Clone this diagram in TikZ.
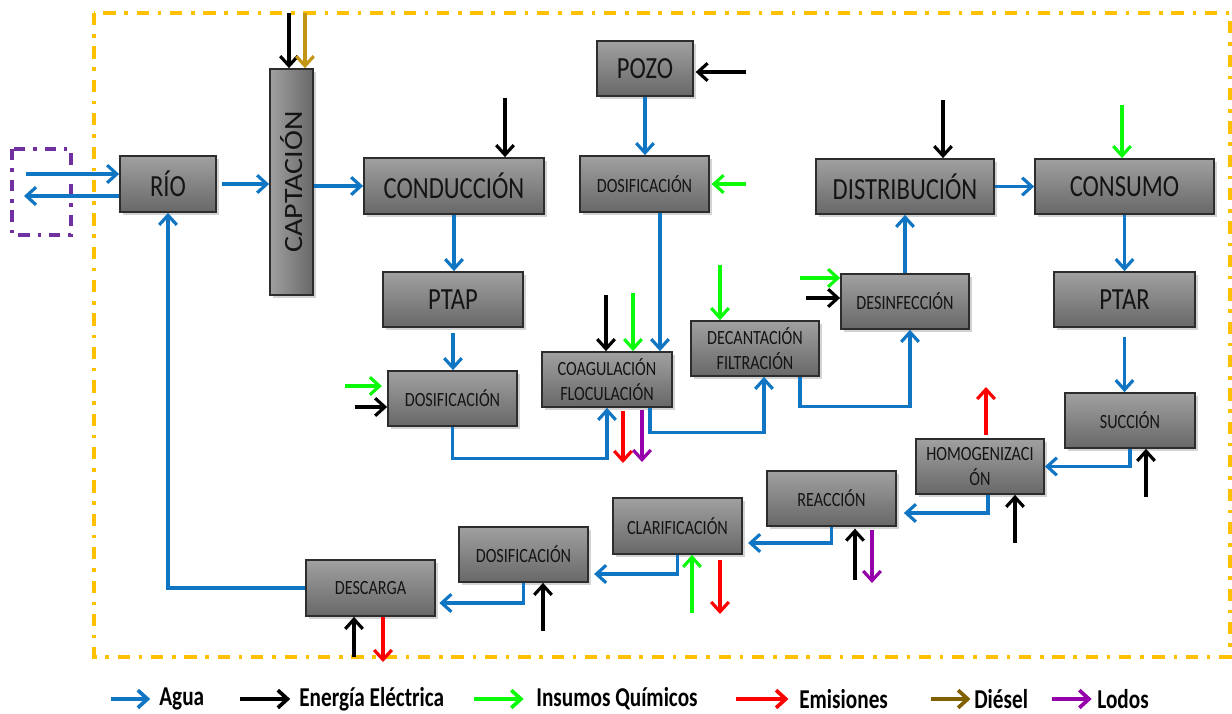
\documentclass[tikz,border=0pt]{standalone}
\usepackage{fontspec}
\setmainfont{Carlito}
\newfontfamily\boxfont[FakeStretch=0.8]{Carlito}
\newfontfamily\rotfont[FakeStretch=1.14]{Carlito}
\newfontfamily\legfont[FakeStretch=0.78]{Carlito}
\usetikzlibrary{arrows.meta,shadows,calc}

\definecolor{boxtop}{RGB}{160,160,160}
\definecolor{boxbot}{RGB}{104,104,104}
\definecolor{boxline}{RGB}{45,45,45}
\definecolor{boxtext}{RGB}{20,20,20}
\definecolor{cAgua}{RGB}{16,117,195}
\definecolor{cElec}{RGB}{0,0,0}
\definecolor{cQuim}{RGB}{10,250,10}
\definecolor{cEmis}{RGB}{255,0,0}
\definecolor{cDiesel}{RGB}{196,148,20}
\definecolor{cDieselLeg}{RGB}{128,96,0}
\definecolor{cLodos}{RGB}{150,0,170}
\definecolor{cLimite}{RGB}{255,192,0}
\definecolor{cExt}{RGB}{112,48,160}

\tikzset{
  proc/.style={draw=boxline, line width=1pt, top color=boxtop, bottom color=boxbot,
    drop shadow={shadow xshift=1.6pt, shadow yshift=-1.6pt, opacity=0.35},
    inner sep=1pt, align=center, text=boxtext},
  sz/.style 2 args={minimum width=#1cm, minimum height=#2cm},
  big/.style={proc, font=\boxfont\fontsize{17.5}{20}\selectfont},
  small/.style={proc, font=\boxfont\fontsize{11.5}{14.2}\selectfont},
  flow/.style={line width=1.8pt, -{Straight Barb[length=5.5pt,width=10pt]}},
  agua/.style={flow, draw=cAgua},
  elec/.style={flow, draw=cElec},
  quim/.style={flow, draw=cQuim},
  emis/.style={flow, draw=cEmis},
  diesel/.style={flow, draw=cDiesel},
  lodos/.style={flow, draw=cLodos},
  leg/.style={inner sep=0pt, anchor=west, font=\legfont\bfseries\fontsize{15.5}{18}\selectfont},
  legarrow/.style={line width=2.1pt}
}

\begin{document}
\begin{tikzpicture}[x=0.02cm, y=-0.02cm]
\useasboundingbox (0,0) rectangle (1232,714);

% system boundary and external body of water
\draw[cLimite, line width=2.1pt, dash pattern=on 7pt off 5pt on 2pt off 5pt]
  (94,13) rectangle (1230,657);
\draw[cExt, line width=1.9pt, dash pattern=on 6.5pt off 4.5pt on 2pt off 4.5pt]
  (12,149) rectangle (71,235);

% process blocks
\node[big, sz={1.92}{1.12}] (rio) at (168,184) {RÍO};
\node[proc, sz={0.86}{4.52}, left color=boxtop, right color=boxbot] (capt) at (291.5,182)
  {\rotfont\fontsize{15}{18}\selectfont\rotatebox{90}{CAPTACIÓN}};
\node[big, sz={3.6}{1.12}] (cond) at (454,186) {CONDUCCIÓN};
\node[big, sz={2.8}{1.1}] (ptap) at (453,299.5) {PTAP};
\node[small, sz={2.58}{1.1}] (dos1) at (452.5,398.5) {DOSIFICACIÓN};
\node[small, sz={2.6}{1.1}] (coag) at (607,379.5) {COAGULACIÓN\\FLOCULACIÓN};
\node[small, sz={2.56}{1.1}] (dec) at (755,348.5) {DECANTACIÓN\\FILTRACIÓN};
\node[small, sz={2.56}{1.1}] (desinf) at (905,301.5) {DESINFECCIÓN};
\node[big, sz={3.56}{1.1}] (dist) at (905,186.5) {DISTRIBUCIÓN};
\node[big, sz={3.58}{1.1}] (cons) at (1124.5,186.5) {CONSUMO};
\node[big, sz={2.82}{1.1}] (ptar) at (1124.5,299.5) {PTAR};
\node[small, sz={2.6}{1.1}] (succ) at (1130,420.5) {SUCCIÓN};
\node[small, sz={2.56}{1.1}] (homog) at (980,466.5) {HOMOGENIZACI\\ÓN};
\node[small, sz={2.58}{1.1}] (reac) at (831.5,498.5) {REACCIÓN};
\node[small, sz={2.58}{1.12}] (clar) at (677.5,526) {CLARIFICACIÓN};
\node[small, sz={2.58}{1.1}] (dos3) at (523.5,554.5) {DOSIFICACIÓN};
\node[small, sz={2.58}{1.12}] (desc) at (370.5,588) {DESCARGA};
\node[big, sz={1.92}{1.1}] (pozo) at (645,68.5) {POZO};
\node[small, sz={2.58}{1.12}] (dos2) at (644.5,184) {DOSIFICACIÓN};

% water flow
\coordinate (inL) at (26,174);
\coordinate (outL) at (24,196);
\draw[agua] (inL) -- (inL -| rio.west);
\draw[agua] (outL -| rio.west) -- (outL);
\draw[agua, shorten <=3pt] (rio.east) -- (rio.east -| capt.west);
\draw[agua] (capt.east |- cond.west) -- (cond.west);
\draw[agua] (cond.south) -- (cond.south |- ptap.north);
\draw[agua, shorten <=3pt] (ptap.south) -- (ptap.south |- dos1.north);
\draw[agua] (dos1.south) -- ++(0,32) -| (coag.south);
\draw[agua] (pozo.south) -- (pozo.south |- dos2.north);
\coordinate (pz) at ($(dos2.south)+(15.5,0)$);
\draw[agua] (pz) -- (pz |- coag.north);
\draw[agua] ($(coag.south)+(43,0)$) -- ++(0,25) -| ($(dec.south)+(9,0)$);
\draw[agua] ($(dec.south)+(45,0)$) -- ++(0,30) -| ($(desinf.south)+(5,0)$);
\draw[agua] (desinf.north) -- (desinf.north |- dist.south);
\draw[agua] (dist.east) -- (dist.east -| cons.west);
\draw[agua] (cons.south) -- (cons.south |- ptar.north);
\draw[agua, shorten <=5pt] (ptar.south) -- (ptar.south |- succ.north);
\draw[agua] (succ.south) |- (homog.east);
\draw[agua, shorten >=4pt] ($(homog.south)+(8,0)$) |- ($(reac.east)+(0,14.5)$);
\draw[agua, shorten >=3pt] (reac.south) |- ($(clar.east)+(0,17)$);
\draw[agua, shorten >=3pt] (clar.south) |- ($(dos3.east)+(0,19.5)$);
\draw[agua, shorten >=2pt] (dos3.south) |- ($(desc.east)+(0,15)$);
\draw[agua] (desc.west) -| (rio.south);

% electric energy
\coordinate (e1) at (289,13);
\draw[elec] (e1) -- (e1 |- capt.north);
\coordinate (e2) at (505,98);
\draw[elec] (e2) -- (e2 |- cond.north);
\coordinate (e3) at (746,72);
\draw[elec, shorten >=1pt] (e3) -- (e3 -| pozo.east);
\coordinate (e4) at (606,295);
\draw[elec] (e4) -- (e4 |- coag.north);
\coordinate (e5) at (355,407);
\draw[elec] (e5) -- (e5 -| dos1.west);
\coordinate (e6) at (806,298);
\draw[elec] (e6) -- (e6 -| desinf.west);
\coordinate (e7) at (943,100);
\draw[elec] (e7) -- (e7 |- dist.north);
\coordinate (e8) at (1146,497);
\draw[elec] (e8) -- (e8 |- succ.south);
\coordinate (e9) at (1015,543);
\draw[elec] (e9) -- (e9 |- homog.south);
\coordinate (e10) at (855,580);
\draw[elec, shorten >=1pt] (e10) -- (e10 |- reac.south);
\coordinate (e11) at (543,631);
\draw[elec] (e11) -- (e11 |- dos3.south);
\coordinate (e12) at (354,657);
\draw[elec] (e12) -- (e12 |- desc.south);

% diesel
\coordinate (d1) at (305,13);
\draw[diesel] (d1) -- (d1 |- capt.north);

% chemical inputs
\coordinate (q1) at (633,293);
\draw[quim] (q1) -- (q1 |- coag.north);
\coordinate (q2) at (345,386);
\draw[quim, shorten >=3pt] (q2) -- (q2 -| dos1.west);
\coordinate (q3) at (720,265);
\draw[quim] (q3) -- (q3 |- dec.north);
\coordinate (q4) at (746,184);
\draw[quim, shorten >=1pt] (q4) -- (q4 -| dos2.east);
\coordinate (q5) at (800,278);
\draw[quim] (q5) -- (q5 -| desinf.west);
\coordinate (q6) at (1122,105);
\draw[quim] (q6) -- (q6 |- cons.north);
\coordinate (q7) at (692,613);
\draw[quim] (q7) -- (q7 |- clar.south);

% emissions
\coordinate (r1) at (623,463);
\draw[emis, shorten <=2pt] (r1 |- coag.south) -- (r1);
\coordinate (r2) at (986,387);
\draw[emis, shorten <=2pt] (r2 |- homog.north) -- (r2);
\coordinate (r3) at (720,614);
\draw[emis, shorten <=3pt] (r3 |- clar.south) -- (r3);
\coordinate (r4) at (383,662);
\draw[emis] (r4 |- desc.south) -- (r4);

% sludge
\coordinate (l1) at (642,462);
\draw[lodos, shorten <=1pt] (l1 |- coag.south) -- (l1);
\coordinate (l2) at (872,583);
\draw[lodos, shorten <=2pt] (l2 |- reac.south) -- (l2);

% legend
\node[leg] (lAgua) at (159,699) {Agua};
\node[leg] (lElec) at (299,699) {Energía Eléctrica};
\node[leg] (lQuim) at (536,699) {Insumos Químicos};
\node[leg] (lEmis) at (799,699) {Emisiones};
\node[leg] (lDies) at (974,699) {Diésel};
\node[leg] (lLod) at (1097,699) {Lodos};
\coordinate (kA) at (111,699);
\coordinate (kE) at (240,699);
\coordinate (kQ) at (474,699);
\coordinate (kR) at (736,699);
\coordinate (kD) at (931,699);
\coordinate (kL) at (1052,699);
\draw[agua, legarrow, shorten >=5pt] (kA) -- (lAgua.west);
\draw[elec, legarrow, shorten >=5pt] (kE) -- (lElec.west);
\draw[quim, legarrow, shorten >=7pt] (kQ) -- (lQuim.west);
\draw[emis, legarrow, shorten >=6pt] (kR) -- (lEmis.west);
\draw[flow, draw=cDieselLeg, legarrow, shorten >=2pt] (kD) -- (lDies.west);
\draw[lodos, legarrow, shorten >=3pt] (kL) -- (lLod.west);
\end{tikzpicture}
\end{document}
